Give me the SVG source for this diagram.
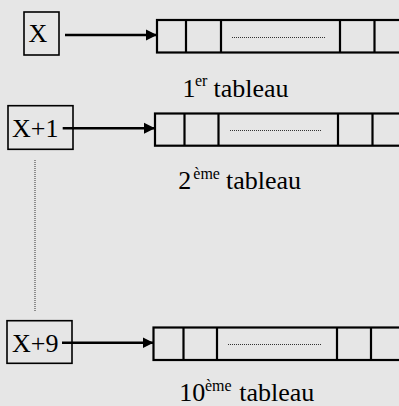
<svg xmlns="http://www.w3.org/2000/svg" width="399" height="406" viewBox="0 0 399 406">
  <defs>
    <marker id="arrow" markerUnits="userSpaceOnUse" markerWidth="12" markerHeight="12" refX="11" refY="6" orient="auto">
      <path d="M0,0.5 L11,6 L0,11.5 z" fill="#000"/>
    </marker>
  </defs>
  <style>
    .box { fill: none; stroke: #000; stroke-width: 1.6; }
    .tab { fill: none; stroke: #000; stroke-width: 2.2; }
    .dots { fill: none; stroke: #333; stroke-width: 1; stroke-dasharray: 1 1; }
    .link { fill: none; stroke: #000; stroke-width: 2.5; marker-end: url(#arrow); }
    text { font-family: 'Liberation Serif', 'DejaVu Serif', serif; font-size: 26px; fill: #000; }
    .sup { font-size: 16px; }
  </style>
  <rect width="399" height="406" fill="#e6e6e6"/>

  <!-- index cells -->
  <g id="x0">
    <rect class="box" x="24" y="12" width="35" height="43"/>
    <text x="28.5" y="42.3">X</text>
  </g>
  <g id="x1">
    <rect class="box" x="8" y="105.7" width="65" height="43.6"/>
    <text x="12" y="136.7">X+1</text>
  </g>
  <g id="x9">
    <rect class="box" x="7" y="320.7" width="65" height="42.6"/>
    <text x="12" y="351.7">X+9</text>
  </g>

  <!-- tables -->
  <g id="tab1">
    <rect class="tab" x="157" y="20" width="250" height="32.5"/>
    <path class="tab" d="M186,20 V52.5 M221,20 V52.5 M340,20 V52.5 M374.5,20 V52.5"/>
    <line class="dots" x1="232" y1="37.5" x2="325" y2="37.5"/>
    <text x="182.5" y="96.5">1<tspan class="sup" x="195" y="86">er</tspan><tspan x="213.5" y="96.5">tableau</tspan></text>
  </g>
  <g id="tab2">
    <rect class="tab" x="155" y="113.5" width="250" height="32.2"/>
    <path class="tab" d="M184.5,113.5 V145.7 M218.5,113.5 V145.7 M338,113.5 V145.7 M372.5,113.5 V145.7"/>
    <line class="dots" x1="230" y1="130.5" x2="322" y2="130.5"/>
    <text x="178.3" y="189.3">2<tspan class="sup" x="193.3" y="179">ème</tspan><tspan x="226" y="189.3">tableau</tspan></text>
  </g>
  <g id="tab10">
    <rect class="tab" x="153.5" y="327.5" width="250" height="32.5"/>
    <path class="tab" d="M183.5,327.5 V360 M217,327.5 V360 M337,327.5 V360 M371,327.5 V360"/>
    <line class="dots" x1="228" y1="344.5" x2="322" y2="344.5"/>
    <text x="179.3" y="401">10<tspan class="sup" x="205" y="390.5">ème</tspan><tspan x="239.3" y="401">tableau</tspan></text>
  </g>

  <!-- connectors -->
  <g id="connectors">
    <line class="link" x1="65" y1="35" x2="157" y2="35"/>
    <line class="link" x1="62.7" y1="128.3" x2="155" y2="128.3"/>
    <line class="link" x1="62" y1="342.7" x2="153.5" y2="342.7"/>
    <line class="dots" x1="35" y1="160" x2="35" y2="312"/>
  </g>
</svg>
